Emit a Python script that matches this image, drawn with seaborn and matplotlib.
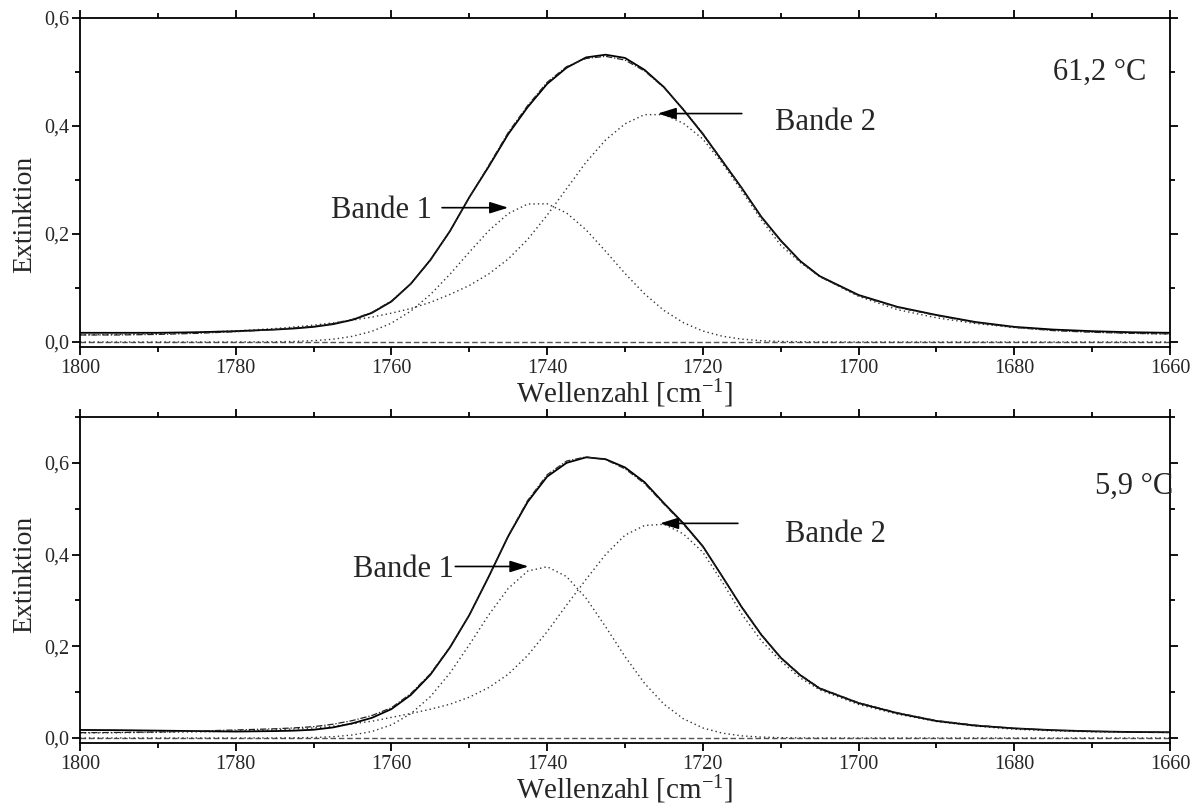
import matplotlib
matplotlib.use("Agg")
import matplotlib.pyplot as plt
import seaborn as sns
from matplotlib.ticker import MultipleLocator, FuncFormatter

# ---------------- data ----------------
wn = [1800, 1795, 1790, 1785, 1780,
      1775, 1772.5, 1770, 1767.5, 1765, 1762.5, 1760, 1757.5, 1755, 1752.5,
      1750, 1747.5, 1745, 1742.5, 1740, 1737.5, 1735, 1732.5, 1730, 1727.5,
      1725, 1722.5, 1720, 1717.5, 1715, 1712.5, 1710, 1707.5, 1705,
      1700, 1695, 1690, 1685, 1680, 1675, 1670, 1665, 1660]

# panel 1 : 61,2 °C
top_measured = [0.017, 0.017, 0.017, 0.018, 0.020,
                0.023, 0.025, 0.028, 0.033, 0.041, 0.054, 0.075, 0.108, 0.152, 0.205,
                0.268, 0.325, 0.385, 0.435, 0.478, 0.508, 0.527, 0.532, 0.526, 0.504,
                0.472, 0.430, 0.385, 0.335, 0.285, 0.232, 0.188, 0.150, 0.122,
                0.087, 0.065, 0.050, 0.037, 0.028, 0.023, 0.020, 0.018, 0.017]
top_fit = [0.013, 0.013, 0.014, 0.016, 0.019,
           0.023, 0.026, 0.029, 0.034, 0.042, 0.055, 0.076, 0.108, 0.151, 0.205,
           0.268, 0.327, 0.388, 0.438, 0.481, 0.510, 0.525, 0.529, 0.522, 0.502,
           0.471, 0.431, 0.386, 0.336, 0.285, 0.231, 0.187, 0.149, 0.121,
           0.086, 0.064, 0.049, 0.036, 0.027, 0.021, 0.018, 0.016, 0.015]
top_band1 = [0, 0, 0, 0, 0,
             0.0004, 0.001, 0.0024, 0.0051, 0.0105, 0.0198, 0.0349, 0.0574, 0.0878, 0.1252,
             0.1664, 0.2061, 0.2377, 0.2555, 0.2559, 0.2388, 0.2076, 0.1681, 0.1269, 0.0892,
             0.0584, 0.0357, 0.0203, 0.0107, 0.0053, 0.0024, 0.001, 0.0004, 0.0001,
             0, 0, 0, 0, 0, 0, 0, 0, 0]
top_band2 = [0.0132, 0.0141, 0.0154, 0.0179, 0.0205,
             0.0248, 0.0278, 0.0312, 0.0354, 0.0406, 0.0461, 0.0534, 0.0620, 0.0734, 0.0880,
             0.1046, 0.1260, 0.1537, 0.1900, 0.2349, 0.2840, 0.3330, 0.3740, 0.4040, 0.4210,
             0.4210, 0.4050, 0.3758, 0.3309, 0.2797, 0.2263, 0.1793, 0.1473, 0.1217,
             0.0845, 0.0598, 0.0448, 0.0342, 0.0269, 0.0222, 0.0188, 0.0162, 0.0145]

# panel 2 : 5,9 °C
bot_measured = [0.0175, 0.017, 0.016, 0.015, 0.014,
                0.015, 0.016, 0.018, 0.023, 0.032, 0.044, 0.063, 0.094, 0.138, 0.197,
                0.268, 0.352, 0.440, 0.515, 0.570, 0.600, 0.612, 0.608, 0.590, 0.558,
                0.512, 0.468, 0.418, 0.352, 0.285, 0.225, 0.175, 0.137, 0.108,
                0.076, 0.054, 0.037, 0.027, 0.021, 0.017, 0.0145, 0.013, 0.0125]
bot_fit = [0.0116, 0.012, 0.013, 0.015, 0.0175,
           0.020, 0.022, 0.0247, 0.030, 0.038, 0.049, 0.066, 0.097, 0.140, 0.198,
           0.268, 0.352, 0.441, 0.518, 0.574, 0.604, 0.613, 0.607, 0.587, 0.555,
           0.510, 0.466, 0.417, 0.352, 0.286, 0.226, 0.176, 0.138, 0.109,
           0.077, 0.055, 0.038, 0.028, 0.021, 0.017, 0.0145, 0.013, 0.012]
bot_band1 = [0, 0, 0, 0, 0,
             0.0001, 0.0004, 0.001, 0.0027, 0.0065, 0.0142, 0.0286, 0.053, 0.0902, 0.1413,
             0.2032, 0.2685, 0.3261, 0.364, 0.3734, 0.3519, 0.3048, 0.2427, 0.1775, 0.1193,
             0.0737, 0.0418, 0.0218, 0.0105, 0.0046, 0.0019, 0.0007, 0.0002, 0,
             0, 0, 0, 0, 0, 0, 0, 0, 0]
bot_band2 = [0.0108, 0.0115, 0.0123, 0.0133, 0.015,
             0.0176, 0.0197, 0.0218, 0.0257, 0.0309, 0.0365, 0.0449, 0.0534, 0.0627, 0.0735,
             0.0890, 0.1100, 0.1390, 0.1800, 0.2320, 0.2900, 0.3460, 0.4000, 0.4423, 0.4633,
             0.4661, 0.445, 0.405, 0.34, 0.27, 0.212, 0.168, 0.131, 0.105,
             0.073, 0.052, 0.036, 0.026, 0.019, 0.0155, 0.0135, 0.0125, 0.0118]

base_x = [1800, 1660]
base_y = [0.0, 0.0]

x_ticks = [1800, 1780, 1760, 1740, 1720, 1700, 1680, 1660]
temps = ["61,2 °C", "5,9 °C"]
band_labels = ["Bande 1", "Bande 2"]
xlabel_text = "Wellenzahl [cm$^{-1}$]"
ylabel_text = "Extinktion"

# ---------------- style ----------------
sns.set_theme(style="ticks")
plt.rcParams['font.family'] = ['Liberation Serif', 'DejaVu Serif']
plt.rcParams['mathtext.fontset'] = 'custom'
plt.rcParams['mathtext.rm'] = 'Liberation Serif'
plt.rcParams['mathtext.it'] = 'Liberation Serif:italic'
plt.rcParams['mathtext.bf'] = 'Liberation Serif:bold'
plt.rcParams['axes.linewidth'] = 1.3

fig = plt.figure(figsize=(12, 8.1), dpi=100)
ax1 = fig.add_axes([0.0667, 0.5716, 0.9083, 0.4062])
ax2 = fig.add_axes([0.0667, 0.0827, 0.9083, 0.4025])


def draw(ax, meas, fit, b1, b2):
    sns.lineplot(x=base_x, y=base_y, ax=ax, color='#555555', lw=1.0, estimator=None, sort=False)
    ax.lines[-1].set_dashes([4, 2])
    sns.lineplot(x=wn, y=b1, ax=ax, color='#333333', lw=1.0, estimator=None, sort=False)
    ax.lines[-1].set_dashes([1, 2.2])
    sns.lineplot(x=wn, y=b2, ax=ax, color='#333333', lw=1.0, estimator=None, sort=False)
    ax.lines[-1].set_dashes([1, 2.2])
    sns.lineplot(x=wn, y=meas, ax=ax, color='black', lw=1.3, estimator=None, sort=False)
    sns.lineplot(x=wn, y=fit, ax=ax, color='#222222', lw=0.9, estimator=None, sort=False)
    ax.lines[-1].set_dashes([5, 1.5, 1, 1.5])


def style(ax, ylim, ylab_y):
    ax.set_xlim(1800, 1660)
    ax.set_ylim(*ylim)
    ax.set_xticks(x_ticks)
    ax.xaxis.set_minor_locator(MultipleLocator(10))
    ax.yaxis.set_major_locator(MultipleLocator(0.2))
    ax.yaxis.set_minor_locator(MultipleLocator(0.1))
    ax.xaxis.set_major_formatter(FuncFormatter(lambda v, _: f"{int(round(v))}"))
    ax.yaxis.set_major_formatter(FuncFormatter(lambda v, _: f"{v:.1f}".replace('.', ',')))
    ax.tick_params(which='both', direction='out', top=True, right=True,
                   labeltop=False, labelright=False, color='black', width=1.3)
    ax.tick_params(which='major', length=6, labelsize=14.5)
    ax.tick_params(axis='x', which='major', pad=2.5)
    ax.tick_params(axis='y', which='major', pad=2)
    ax.tick_params(which='minor', length=3.5)
    for s in ax.spines.values():
        s.set_visible(True)
        s.set_color('black')
        s.set_linewidth(1.3)
    ax.set_xlabel(xlabel_text, fontsize=21, labelpad=0)
    ax.set_ylabel(ylabel_text, fontsize=20)
    ax.yaxis.set_label_coords(-0.0395, ylab_y)


arrow = dict(arrowstyle='-|>,head_length=0.8,head_width=0.25', lw=1.2, color='black',
             mutation_scale=14, shrinkA=0, shrinkB=0)

draw(ax1, top_measured, top_fit, top_band1, top_band2)
style(ax1, (-0.0093, 0.6), 0.404)
ax1.text(1754.8, 0.229, band_labels[0], ha='right', va='baseline', fontsize=22)
ax1.annotate('', xy=(1745.0, 0.2487), xytext=(1753.5, 0.2487), arrowprops=arrow)
ax1.text(1710.7, 0.3926, band_labels[1], ha='left', va='baseline', fontsize=22)
ax1.annotate('', xy=(1725.8, 0.423), xytext=(1715.0, 0.423), arrowprops=arrow)
ax1.text(1663.0, 0.485, temps[0], ha='right', va='baseline', fontsize=22)

draw(ax2, bot_measured, bot_fit, bot_band1, bot_band2)
style(ax2, (-0.011, 0.70), 0.517)
ax2.text(1752.0, 0.352, band_labels[0], ha='right', va='baseline', fontsize=22)
ax2.annotate('', xy=(1742.4, 0.374), xytext=(1751.8, 0.374), arrowprops=arrow)
ax2.text(1709.4, 0.428, band_labels[1], ha='left', va='baseline', fontsize=22)
ax2.annotate('', xy=(1725.5, 0.468), xytext=(1715.5, 0.468), arrowprops=arrow)
ax2.text(1669.6, 0.532, temps[1], ha='left', va='baseline', fontsize=22)

fig.savefig("out.png", dpi=100, facecolor='white')
